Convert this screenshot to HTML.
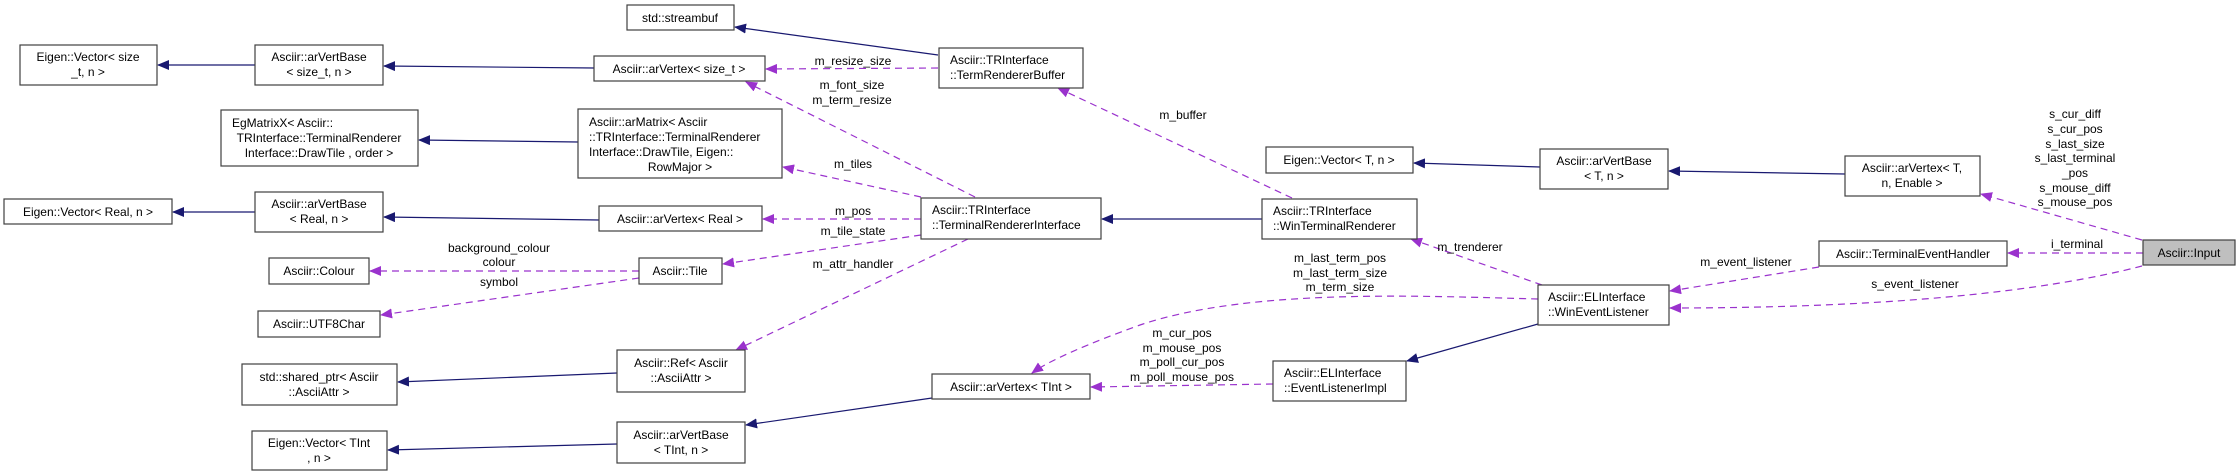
<!DOCTYPE html>
<html><head><meta charset="utf-8"><style>
html,body{margin:0;padding:0;background:#fff;}
svg{display:block;}
text{font-family:"Liberation Sans",sans-serif;font-size:12px;fill:#000;}
.b{fill:#fff;stroke:#404040;stroke-width:1.2;}
.e{stroke:#191970;stroke-width:1.2;fill:none;}
.d{stroke:#9a32cd;stroke-width:1.2;fill:none;stroke-dasharray:7,5;}
</style></head><body>
<svg width="2240" height="471" viewBox="0 0 2240 471" xmlns="http://www.w3.org/2000/svg">
<defs>
<marker id="ab" markerWidth="12" markerHeight="10" refX="11" refY="5" orient="auto" markerUnits="userSpaceOnUse"><path d="M0,0 L12,5 L0,10 z" fill="#191970"/></marker>
<marker id="ap" markerWidth="12" markerHeight="10" refX="11" refY="5" orient="auto" markerUnits="userSpaceOnUse"><path d="M0,0 L12,5 L0,10 z" fill="#9a32cd"/></marker>
</defs>

<!-- solid inheritance edges -->
<path class="e" d="M255,65 L158,65" marker-end="url(#ab)"/>
<path class="e" d="M594,68 L384,66" marker-end="url(#ab)"/>
<path class="e" d="M938,55 L735,27" marker-end="url(#ab)"/>
<path class="e" d="M578,142 L419,140" marker-end="url(#ab)"/>
<path class="e" d="M255,212 L173,212" marker-end="url(#ab)"/>
<path class="e" d="M599,220 L384,217" marker-end="url(#ab)"/>
<path class="e" d="M1262,219 L1102,219" marker-end="url(#ab)"/>
<path class="e" d="M1540,167 L1414,163" marker-end="url(#ab)"/>
<path class="e" d="M1845,174 L1669,171" marker-end="url(#ab)"/>
<path class="e" d="M617,373 L398,382" marker-end="url(#ab)"/>
<path class="e" d="M617,444 L388,450" marker-end="url(#ab)"/>
<path class="e" d="M932,398 L746,425" marker-end="url(#ab)"/>
<path class="e" d="M1538,324 L1407,361" marker-end="url(#ab)"/>

<!-- dashed usage edges -->
<path class="d" d="M938,68 L766,69" marker-end="url(#ap)"/>
<path class="d" d="M975,197 L746,82" marker-end="url(#ap)"/>
<path class="d" d="M921,197 L783,167" marker-end="url(#ap)"/>
<path class="d" d="M921,219 L763,219" marker-end="url(#ap)"/>
<path class="d" d="M921,235 L723,264" marker-end="url(#ap)"/>
<path class="d" d="M968,239 L736,350" marker-end="url(#ap)"/>
<path class="d" d="M639,271 L370,271" marker-end="url(#ap)"/>
<path class="d" d="M639,278 L381,315" marker-end="url(#ap)"/>
<path class="d" d="M1292,198 L1058,88" marker-end="url(#ap)"/>
<path class="d" d="M1542,285 L1411,239" marker-end="url(#ap)"/>
<path class="d" d="M1538,299 C1420,296 1250,288 1140,325 C1090,343 1050,360 1032,373" marker-end="url(#ap)"/>
<path class="d" d="M1273,384 L1091,387" marker-end="url(#ap)"/>
<path class="d" d="M1819,267 L1670,291" marker-end="url(#ap)"/>
<path class="d" d="M2143,253 L2008,253" marker-end="url(#ap)"/>
<path class="d" d="M2142,266 C2050,290 1900,308 1670,308" marker-end="url(#ap)"/>
<path class="d" d="M2142,240 L1981,194" marker-end="url(#ap)"/>

<!-- edge labels -->
<g text-anchor="middle">
<text x="853" y="65">m_resize_size</text>
<text x="852" y="89">m_font_size</text>
<text x="852" y="104">m_term_resize</text>
<text x="1183" y="119">m_buffer</text>
<text x="853" y="168">m_tiles</text>
<text x="853" y="215">m_pos</text>
<text x="853" y="235">m_tile_state</text>
<text x="853" y="268">m_attr_handler</text>
<text x="499" y="252">background_colour</text>
<text x="499" y="266">colour</text>
<text x="499" y="286">symbol</text>
<text x="1340" y="262">m_last_term_pos</text>
<text x="1340" y="277">m_last_term_size</text>
<text x="1340" y="291">m_term_size</text>
<text x="1182" y="337">m_cur_pos</text>
<text x="1182" y="352">m_mouse_pos</text>
<text x="1182" y="366">m_poll_cur_pos</text>
<text x="1182" y="381">m_poll_mouse_pos</text>
<text x="1470" y="251">m_trenderer</text>
<text x="1746" y="266">m_event_listener</text>
<text x="1915" y="288">s_event_listener</text>
<text x="2077" y="248">i_terminal</text>
<text x="2075" y="118">s_cur_diff</text>
<text x="2075" y="133">s_cur_pos</text>
<text x="2075" y="148">s_last_size</text>
<text x="2075" y="162">s_last_terminal</text>
<text x="2075" y="177">_pos</text>
<text x="2075" y="192">s_mouse_diff</text>
<text x="2075" y="206">s_mouse_pos</text>
</g>

<!-- nodes -->
<rect class="b" x="627" y="5" width="107" height="25"/>
<text x="680" y="22" text-anchor="middle">std::streambuf</text>

<rect class="b" x="20" y="45" width="137" height="40"/>
<text x="88" y="61" text-anchor="middle">Eigen::Vector&lt; size</text>
<text x="88" y="76" text-anchor="middle">_t, n &gt;</text>

<rect class="b" x="255" y="45" width="128" height="40"/>
<text x="319" y="61" text-anchor="middle">Asciir::arVertBase</text>
<text x="319" y="76" text-anchor="middle">&lt; size_t, n &gt;</text>

<rect class="b" x="594" y="56" width="171" height="25"/>
<text x="679" y="73" text-anchor="middle">Asciir::arVertex&lt; size_t &gt;</text>

<rect class="b" x="939" y="48" width="144" height="40"/>
<text x="950" y="64">Asciir::TRInterface</text>
<text x="950" y="79">::TermRendererBuffer</text>

<rect class="b" x="221" y="110" width="197" height="56"/>
<text x="232" y="127">EgMatrixX&lt; Asciir::</text>
<text x="319" y="142" text-anchor="middle">TRInterface::TerminalRenderer</text>
<text x="319" y="157" text-anchor="middle">Interface::DrawTile , order &gt;</text>

<rect class="b" x="578" y="109" width="204" height="69"/>
<text x="589" y="126">Asciir::arMatrix&lt; Asciir</text>
<text x="589" y="141">::TRInterface::TerminalRenderer</text>
<text x="589" y="156">Interface::DrawTile, Eigen::</text>
<text x="680" y="171" text-anchor="middle">RowMajor &gt;</text>

<rect class="b" x="4" y="199" width="168" height="25"/>
<text x="88" y="216" text-anchor="middle">Eigen::Vector&lt; Real, n &gt;</text>

<rect class="b" x="255" y="192" width="128" height="40"/>
<text x="319" y="208" text-anchor="middle">Asciir::arVertBase</text>
<text x="319" y="223" text-anchor="middle">&lt; Real, n &gt;</text>

<rect class="b" x="599" y="206" width="163" height="25"/>
<text x="680" y="223" text-anchor="middle">Asciir::arVertex&lt; Real &gt;</text>

<rect class="b" x="921" y="198" width="180" height="41"/>
<text x="932" y="214">Asciir::TRInterface</text>
<text x="932" y="229">::TerminalRendererInterface</text>

<rect class="b" x="1266" y="147" width="147" height="26"/>
<text x="1339" y="164" text-anchor="middle">Eigen::Vector&lt; T, n &gt;</text>

<rect class="b" x="1262" y="199" width="155" height="40"/>
<text x="1273" y="215">Asciir::TRInterface</text>
<text x="1273" y="230">::WinTerminalRenderer</text>

<rect class="b" x="1540" y="149" width="128" height="40"/>
<text x="1604" y="165" text-anchor="middle">Asciir::arVertBase</text>
<text x="1604" y="180" text-anchor="middle">&lt; T, n &gt;</text>

<rect class="b" x="1845" y="156" width="135" height="40"/>
<text x="1912" y="172" text-anchor="middle">Asciir::arVertex&lt; T,</text>
<text x="1912" y="187" text-anchor="middle">n, Enable &gt;</text>

<rect class="b" x="1819" y="241" width="188" height="25"/>
<text x="1913" y="258" text-anchor="middle">Asciir::TerminalEventHandler</text>

<rect x="2143" y="240" width="92" height="25" fill="#bfbfbf" stroke="#404040" stroke-width="1.2"/>
<text x="2189" y="257" text-anchor="middle">Asciir::Input</text>

<rect class="b" x="269" y="258" width="100" height="26"/>
<text x="319" y="275" text-anchor="middle">Asciir::Colour</text>

<rect class="b" x="639" y="258" width="83" height="26"/>
<text x="680" y="275" text-anchor="middle">Asciir::Tile</text>

<rect class="b" x="258" y="311" width="122" height="26"/>
<text x="319" y="328" text-anchor="middle">Asciir::UTF8Char</text>

<rect class="b" x="1538" y="285" width="131" height="40"/>
<text x="1548" y="301">Asciir::ELInterface</text>
<text x="1548" y="316">::WinEventListener</text>

<rect class="b" x="617" y="350" width="128" height="42"/>
<text x="681" y="367" text-anchor="middle">Asciir::Ref&lt; Asciir</text>
<text x="681" y="382" text-anchor="middle">::AsciiAttr &gt;</text>

<rect class="b" x="242" y="364" width="155" height="41"/>
<text x="319" y="381" text-anchor="middle">std::shared_ptr&lt; Asciir</text>
<text x="319" y="396" text-anchor="middle">::AsciiAttr &gt;</text>

<rect class="b" x="932" y="374" width="158" height="25"/>
<text x="1011" y="391" text-anchor="middle">Asciir::arVertex&lt; TInt &gt;</text>

<rect class="b" x="1273" y="361" width="133" height="40"/>
<text x="1284" y="377">Asciir::ELInterface</text>
<text x="1284" y="392">::EventListenerImpl</text>

<rect class="b" x="617" y="422" width="128" height="41"/>
<text x="681" y="439" text-anchor="middle">Asciir::arVertBase</text>
<text x="681" y="454" text-anchor="middle">&lt; TInt, n &gt;</text>

<rect class="b" x="252" y="431" width="135" height="39"/>
<text x="319" y="447" text-anchor="middle">Eigen::Vector&lt; TInt</text>
<text x="319" y="462" text-anchor="middle">, n &gt;</text>
</svg>
</body></html>
